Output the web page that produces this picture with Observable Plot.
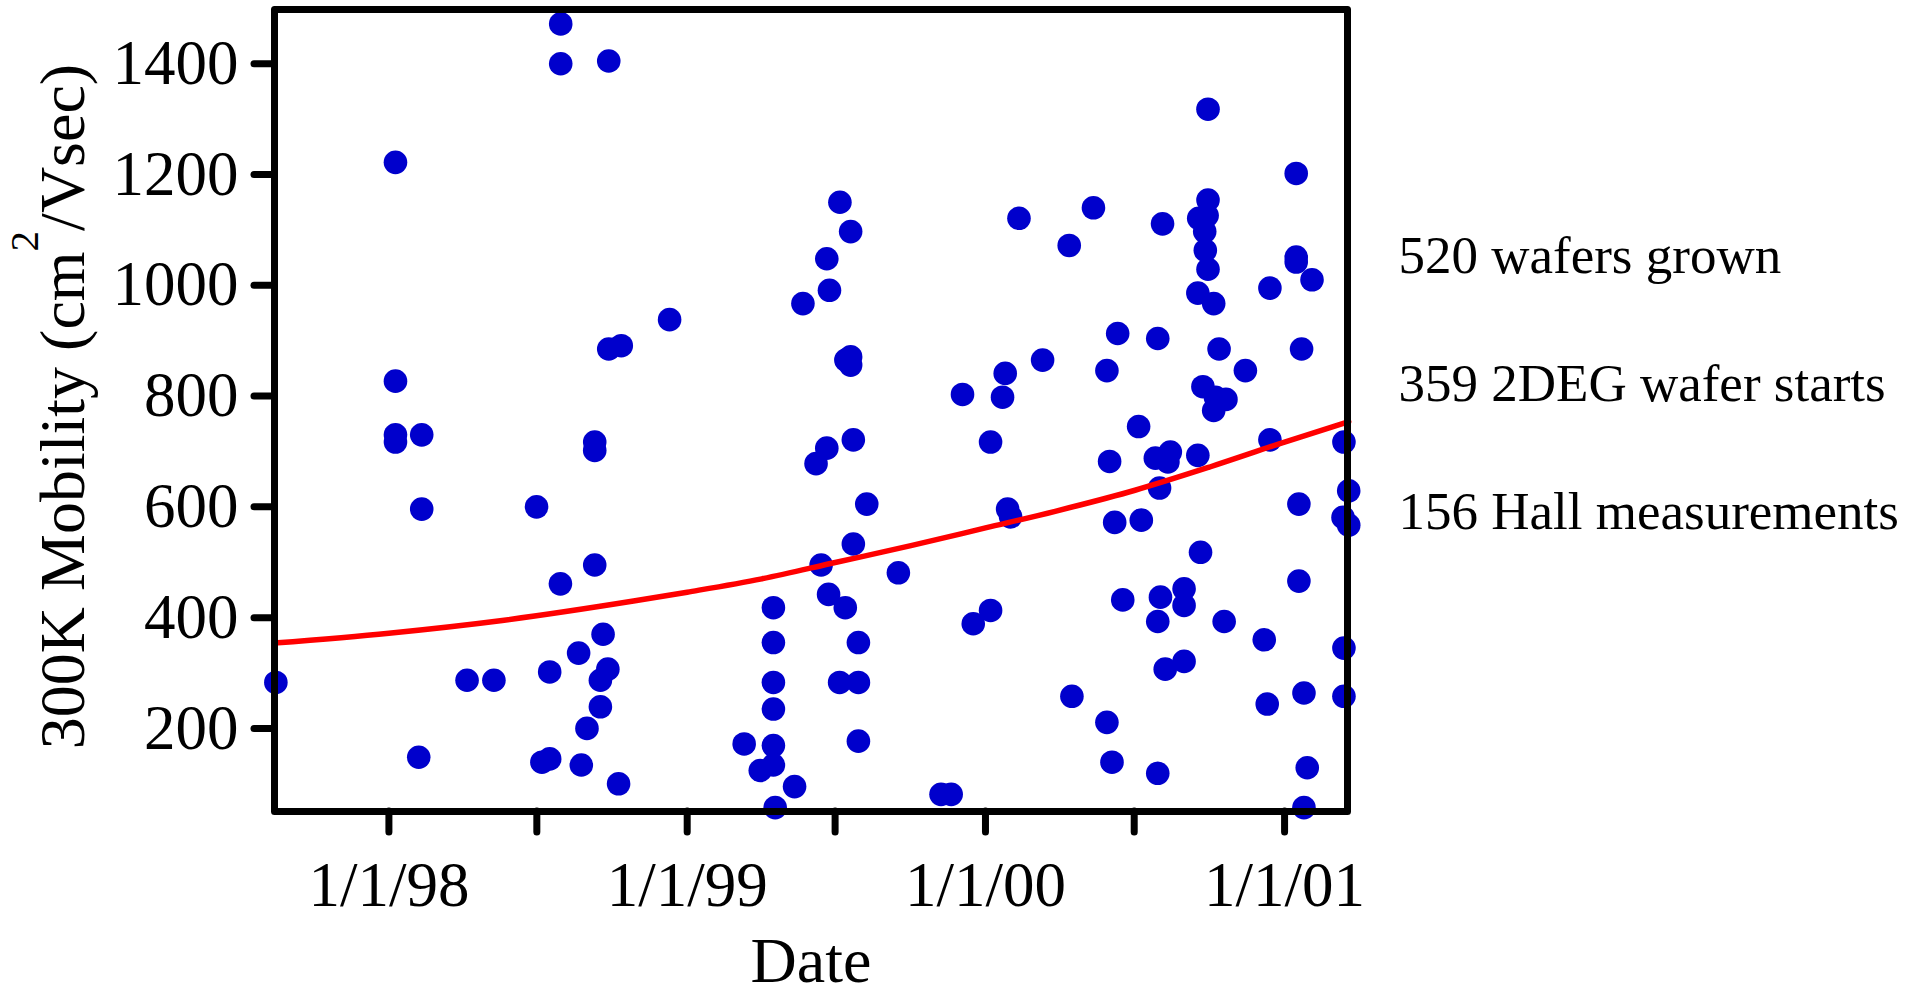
<!DOCTYPE html>
<html>
<head>
<meta charset="utf-8">
<script src="https://cdn.jsdelivr.net/npm/d3@7"></script>
<script src="https://cdn.jsdelivr.net/npm/@observablehq/plot@0.6"></script>
<style>
  html, body { margin: 0; padding: 0; background: #ffffff; }
  #chart { width: 1906px; height: 995px; overflow: hidden; }
</style>
</head>
<body>
<div id="chart"></div>
<script>
// ---- Data ----
// Hall measurement dates (decimal years) and 300 K mobility (cm^2/Vsec)
const dotYears = [
  1998.576,1998.576,1998.737,1998.022,1998.737,1998.779,1998.022,1998.941,
  1999.512,1999.548,1999.468,1999.477,1999.388,1999.532,1999.548,1999.548,
  1999.923,2000.744,2001.039,2000.744,2000.713,2000.741,2000.733,2000.735,
  2000.744,2000.710,2000.763,2000.112,2000.361,2000.280,2000.592,2001.039,
  2001.039,2001.092,2000.951,2000.442,2000.576,2000.781,2001.057,2000.191,
  2000.869,2000.066,2000.406,2000.057,2000.727,2000.769,2000.804,2000.763,
  1998.022,1998.022,1998.110,1998.110,1998.495,1998.690,1998.690,1998.690,
  1998.575,1997.621,1998.718,1998.636,1998.539,1998.262,1998.352,1998.734,
  1998.709,1998.709,1998.664,1998.100,1998.513,1998.539,1998.645,1998.770,
  1999.468,1999.432,1999.557,1999.602,1999.557,1999.449,1999.708,1999.474,
  1999.530,1999.289,1999.289,1999.574,1999.289,1999.511,1999.574,1999.289,
  1999.574,1999.191,1999.289,1999.245,1999.289,1999.360,1999.295,1999.851,
  1999.885,2000.017,1999.959,2000.017,2000.512,2000.415,2000.568,2000.618,
  2000.610,2000.710,2000.951,2001.199,2000.074,2000.084,2000.432,2000.521,
  2000.582,2001.048,2001.215,2001.196,2001.215,2000.719,2001.048,2000.459,
  2000.585,2000.664,2000.664,2000.576,2000.798,2000.932,2001.199,2000.664,
  2000.601,2000.289,2000.942,2001.065,2001.199,2000.406,2000.423,2000.576,
  2001.076,2001.065
];
const dotMobility = [
  1472,1400,1405,1222,885,891,827,938,
  1150,1097,1048,991,967,865,871,856,
  803,1318,1202,1154,1121,1126,1097,1063,
  1029,986,967,1121,1140,1072,1111,1051,
  1042,1010,995,913,904,885,885,865,
  846,841,846,798,817,798,794,774,
  730,717,730,596,600,717,702,495,
  461,283,370,336,302,287,287,307,
  287,239,200,148,139,145,134,100,
  706,678,721,605,533,495,481,442,
  418,418,355,355,283,283,283,235,
  177,172,169,124,134,95,57,81,
  81,717,389,413,745,682,688,699,
  681,693,721,717,596,582,572,576,
  634,605,629,581,567,518,466,432,
  437,452,422,393,393,360,345,321,
  307,258,244,264,258,211,139,119,
  129,57
];

// Trend curve (red), read at several dates
const trendYears    = [1997.615, 1998.0, 1998.38, 1998.82, 1999.0, 1999.25, 1999.5, 1999.75, 2000.0, 2000.233, 2000.5, 2000.75, 2001.0, 2001.215];
const trendMobility = [354, 372, 395, 430, 446, 470, 500, 530, 562, 592, 630, 672, 717, 754];

// Axes
const xDomain = ["1997-08-14", "2001-03-19"];
const xTickDates = ["1998-01-01", "1999-01-01", "2000-01-01", "2001-01-01"];
const xTickLabels = ["1/1/98", "1/1/99", "1/1/00", "1/1/01"];
const xMinorTickDates = ["1998-07-01", "1999-07-01", "2000-07-01"];
const yDomain = [50, 1498];
const yTicks = [200, 400, 600, 800, 1000, 1200, 1400];
const xLabel = "Date";
const yLabel = "300K Mobility (cm²/Vsec)";
const notes = ["520 wafers grown", "359 2DEG wafer starts", "156 Hall measurements"];

// ---- Build tables ----
function yearToDate(y) {
  const Y = Math.floor(y);
  const a = Date.UTC(Y, 0, 1), b = Date.UTC(Y + 1, 0, 1);
  return new Date(a + (y - Y) * (b - a));
}
const iso = (s) => new Date(s + "T00:00:00Z");
const dots = dotYears.map((y, i) => ({date: yearToDate(y), mobility: dotMobility[i]}));
const trend = trendYears.map((y, i) => ({date: yearToDate(y), mobility: trendMobility[i]}));
const majorTicks = xTickDates.map(iso);
const minorTicks = xMinorTickDates.map(iso);
const labelByTime = new Map(majorTicks.map((d, i) => [+d, xTickLabels[i]]));

const FONT = "'Liberation Serif', 'Times New Roman', Times, serif";

const plot = Plot.plot({
  width: 1906,
  height: 995,
  marginLeft: 274,
  marginRight: 559,
  marginTop: 9,
  marginBottom: 184,
  style: {fontFamily: FONT, fontSize: "63px", background: "#ffffff", color: "#000000", overflow: "visible"},
  x: {type: "utc", domain: xDomain.map(iso), label: null},
  y: {domain: yDomain, label: null},
  marks: [
    Plot.axisY(yTicks, {
      anchor: "left", tickSize: 20, tickPadding: 16, strokeWidth: 7, strokeLinecap: "round",
      tickFormat: (d) => String(d), label: null, fontSize: 63
    }),
    Plot.axisX(majorTicks, {
      anchor: "bottom", tickSize: 21, tickPadding: 29, strokeWidth: 7, strokeLinecap: "round",
      tickFormat: (d) => labelByTime.get(+d), label: null, fontSize: 63
    }),
    Plot.axisX(minorTicks, {
      anchor: "bottom", tickSize: 21, strokeWidth: 7, strokeLinecap: "round",
      tickFormat: () => "", label: null
    }),
    Plot.dot(dots, {x: "date", y: "mobility", r: 11.8, fill: "#0000CC", stroke: "none"}),
    Plot.line(trend, {x: "date", y: "mobility", stroke: "#FF0000", strokeWidth: 5.5, curve: "monotone-x"}),
    Plot.frame({stroke: "#000000", strokeWidth: 7, strokeLinejoin: "round"}),
    Plot.text([xLabel], {frameAnchor: "bottom", textAnchor: "middle", lineAnchor: "bottom", dy: 170, fontSize: 64, fill: "#000000"}),
    Plot.text([yLabel], {frameAnchor: "left", textAnchor: "middle", lineAnchor: "bottom", rotate: -90, dx: -191, dy: -4, fontSize: 64, fill: "#000000"}),
    Plot.text([notes[0]], {frameAnchor: "top-right", textAnchor: "start", lineAnchor: "bottom", dx: 51, dy: 263, fontSize: 53, fill: "#000000"}),
    Plot.text([notes[1]], {frameAnchor: "top-right", textAnchor: "start", lineAnchor: "bottom", dx: 51, dy: 391, fontSize: 53, fill: "#000000"}),
    Plot.text([notes[2]], {frameAnchor: "top-right", textAnchor: "start", lineAnchor: "bottom", dx: 51, dy: 519, fontSize: 53, fill: "#000000"})
  ]
});

// Turn the "²" of the y label into a raised, smaller "2"
const NS = "http://www.w3.org/2000/svg";
const yl = Array.from(plot.querySelectorAll("text")).find((t) => t.textContent === yLabel);
if (yl) {
  const [pre, post] = yLabel.split("²");
  while (yl.firstChild) yl.removeChild(yl.firstChild);
  yl.appendChild(document.createTextNode(pre));
  const sup = document.createElementNS(NS, "tspan");
  sup.setAttribute("font-size", "41");
  sup.setAttribute("dy", "-46");
  sup.textContent = "2";
  yl.appendChild(sup);
  const rest = document.createElementNS(NS, "tspan");
  rest.setAttribute("dy", "46");
  rest.textContent = post;
  yl.appendChild(rest);
}

document.getElementById("chart").appendChild(plot);
</script>
</body>
</html>
